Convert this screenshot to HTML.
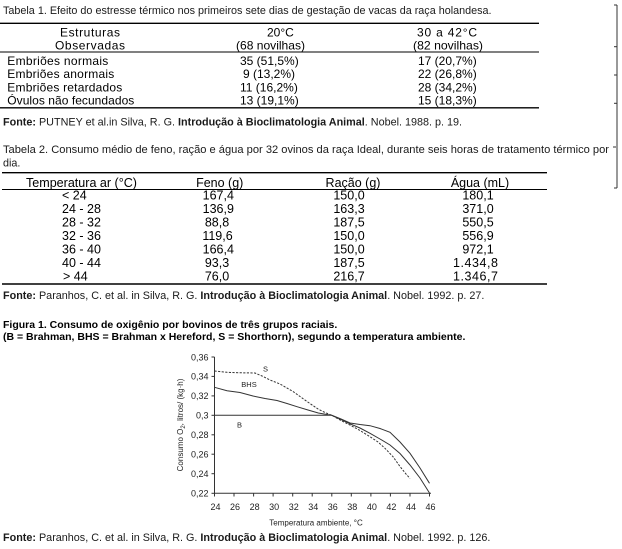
<!DOCTYPE html>
<html>
<head>
<meta charset="utf-8">
<style>
  html, body { margin:0; padding:0; background:#fff; }
  body { width:622px; height:549px; overflow:hidden; }
  svg { display:block; }
  text { font-family: "Liberation Sans", Arial, sans-serif; fill:#111; }
  .t { font-size:10.8px; fill:#1a1a1a; }
  .b1 { font-size:12px; fill:#000; }
  .b2 { font-size:12.5px; fill:#000; }
  .cap { font-size:10.5px; font-weight:bold; fill:#000; }
  .ax { font-size:9px; fill:#222; }
  .axt { font-size:8px; fill:#222; }
  .lab { font-size:7.5px; fill:#222; }
</style>
</head>
<body>
<svg width="622" height="549" viewBox="0 0 622 549" xmlns="http://www.w3.org/2000/svg">

  <!-- ===== Tabela 1 ===== -->
  <text class="t" x="3" y="14">Tabela 1. Efeito do estresse térmico nos primeiros sete dias de gestação de vacas da raça holandesa.</text>
  <line x1="0" y1="23.3" x2="539" y2="23.3" stroke="#000" stroke-width="1.4"/>

  <text class="b1" x="90" y="36.5" text-anchor="middle" textLength="60" lengthAdjust="spacing">Estruturas</text>
  <text class="b1" x="90" y="49.5" text-anchor="middle" textLength="70" lengthAdjust="spacing">Observadas</text>
  <text class="b1" x="267" y="36.5">20°C</text>
  <text class="b1" x="236" y="49.5" textLength="69" lengthAdjust="spacingAndGlyphs">(68 novilhas)</text>
  <text class="b1" x="417" y="36.5" textLength="60" lengthAdjust="spacing">30 a 42°C</text>
  <text class="b1" x="413" y="49.5" textLength="70" lengthAdjust="spacingAndGlyphs">(82 novilhas)</text>
  <line x1="0" y1="52" x2="539" y2="52" stroke="#000" stroke-width="1.1"/>

  <text class="b1" x="7.3" y="65" textLength="101" lengthAdjust="spacing">Embriões normais</text>
  <text class="b1" x="7.3" y="78" textLength="107" lengthAdjust="spacing">Embriões anormais</text>
  <text class="b1" x="7.3" y="91.4" textLength="115" lengthAdjust="spacing">Embriões retardados</text>
  <text class="b1" x="7.3" y="104.7" textLength="127" lengthAdjust="spacing">Óvulos não fecundados</text>

  <text class="b1" x="240" y="65">35 (51,5%)</text>
  <text class="b1" x="243" y="78">9 (13,2%)</text>
  <text class="b1" x="240" y="91.4">11 (16,2%)</text>
  <text class="b1" x="240" y="104.7">13 (19,1%)</text>

  <text class="b1" x="418" y="65">17 (20,7%)</text>
  <text class="b1" x="418" y="78">22 (26,8%)</text>
  <text class="b1" x="418" y="91.4">28 (34,2%)</text>
  <text class="b1" x="418" y="104.7">15 (18,3%)</text>
  <line x1="0" y1="107.8" x2="539" y2="107.8" stroke="#000" stroke-width="1.4"/>

  <text class="t" x="3" y="125.5"><tspan font-weight="bold">Fonte:</tspan> PUTNEY et al.in Silva, R. G. <tspan font-weight="bold">Introdução à Bioclimatologia Animal</tspan>. Nobel. 1988. p. 19.</text>

  <!-- right bracket -->
  <g stroke="#333" stroke-width="1">
    <line x1="617" y1="5" x2="617" y2="188"/>
    <line x1="614" y1="5" x2="617" y2="5"/>
    <line x1="614" y1="46.7" x2="617" y2="46.7"/>
    <line x1="614" y1="75" x2="617" y2="75"/>
    <line x1="614" y1="103.3" x2="617" y2="103.3"/>
    <line x1="613" y1="147" x2="616" y2="147"/>
    <line x1="614" y1="188" x2="617" y2="188"/>
  </g>

  <!-- ===== Tabela 2 ===== -->
  <text class="t" x="3" y="153" textLength="606" lengthAdjust="spacingAndGlyphs">Tabela 2. Consumo médio de feno, ração e água por 32 ovinos da raça Ideal, durante seis horas de tratamento térmico por</text>
  <text class="t" x="3" y="166.5">dia.</text>
  <line x1="2" y1="172.7" x2="547" y2="172.7" stroke="#000" stroke-width="1.4"/>

  <text class="b2" x="26" y="187" textLength="111" lengthAdjust="spacingAndGlyphs">Temperatura ar (°C)</text>
  <text class="b2" x="219.7" y="187" text-anchor="middle">Feno (g)</text>
  <text class="b2" x="353" y="187" text-anchor="middle">Ração (g)</text>
  <text class="b2" x="480" y="187" text-anchor="middle">Água (mL)</text>
  <line x1="2" y1="189.5" x2="547" y2="189.5" stroke="#000" stroke-width="1.1"/>

  <text class="b2" x="62" y="199.5">&lt; 24</text>
  <text class="b2" x="62" y="213">24 - 28</text>
  <text class="b2" x="62" y="226.5">28 - 32</text>
  <text class="b2" x="62" y="240">32 - 36</text>
  <text class="b2" x="62" y="253.5">36 - 40</text>
  <text class="b2" x="62" y="267">40 - 44</text>
  <text class="b2" x="63" y="280.5">&gt; 44</text>

  <g text-anchor="middle">
    <text class="b2" x="218.3" y="199.5" text-anchor="middle">167,4</text>
    <text class="b2" x="218.3" y="213" text-anchor="middle">136,9</text>
    <text class="b2" x="217" y="226.5" text-anchor="middle">88,8</text>
    <text class="b2" x="217.5" y="240" text-anchor="middle">119,6</text>
    <text class="b2" x="218.3" y="253.5" text-anchor="middle">166,4</text>
    <text class="b2" x="217" y="267" text-anchor="middle">93,3</text>
    <text class="b2" x="217" y="280.5" text-anchor="middle">76,0</text>

    <text class="b2" x="349" y="199.5" text-anchor="middle">150,0</text>
    <text class="b2" x="349" y="213" text-anchor="middle">163,3</text>
    <text class="b2" x="349" y="226.5" text-anchor="middle">187,5</text>
    <text class="b2" x="349" y="240" text-anchor="middle">150,0</text>
    <text class="b2" x="349" y="253.5" text-anchor="middle">150,0</text>
    <text class="b2" x="349" y="267" text-anchor="middle">187,5</text>
    <text class="b2" x="349" y="280.5" text-anchor="middle">216,7</text>

    <text class="b2" x="478" y="199.5" text-anchor="middle">180,1</text>
    <text class="b2" x="478" y="213" text-anchor="middle">371,0</text>
    <text class="b2" x="478" y="226.5" text-anchor="middle">550,5</text>
    <text class="b2" x="478" y="240" text-anchor="middle">556,9</text>
    <text class="b2" x="478" y="253.5" text-anchor="middle">972,1</text>
    <text class="b2" x="475.5" y="267" text-anchor="middle" textLength="45" lengthAdjust="spacing">1.434,8</text>
    <text class="b2" x="475.5" y="280.5" text-anchor="middle" textLength="45" lengthAdjust="spacing">1.346,7</text>
  </g>
  <line x1="2" y1="284" x2="547" y2="284" stroke="#000" stroke-width="1.4"/>

  <text class="t" x="3" y="299"><tspan font-weight="bold">Fonte:</tspan> Paranhos, C. et al. in Silva, R. G. <tspan font-weight="bold">Introdução à Bioclimatologia Animal</tspan>. Nobel. 1992. p. 27.</text>

  <!-- ===== Figura 1 ===== -->
  <text class="cap" x="3" y="328">Figura 1. Consumo de oxigênio por bovinos de três grupos raciais.</text>
  <text class="cap" x="3" y="340">(B = Brahman, BHS = Brahman x Hereford, S = Shorthorn), segundo a temperatura ambiente.</text>

  <!-- axes -->
  <g stroke="#333" stroke-width="1" fill="none">
    <line x1="214.5" y1="357" x2="214.5" y2="493.3"/>
    <line x1="214.5" y1="493.3" x2="431" y2="493.3"/>
    <line x1="211.5" y1="357" x2="214.5" y2="357"/>
    <line x1="211.5" y1="376.4" x2="214.5" y2="376.4"/>
    <line x1="211.5" y1="395.9" x2="214.5" y2="395.9"/>
    <line x1="211.5" y1="415.3" x2="214.5" y2="415.3"/>
    <line x1="211.5" y1="434.8" x2="214.5" y2="434.8"/>
    <line x1="211.5" y1="454.2" x2="214.5" y2="454.2"/>
    <line x1="211.5" y1="473.7" x2="214.5" y2="473.7"/>
    <line x1="211.5" y1="493.3" x2="214.5" y2="493.3"/>
    <line x1="214.5" y1="493.3" x2="214.5" y2="496.5"/>
    <line x1="234" y1="493.3" x2="234" y2="496.5"/>
    <line x1="253.6" y1="493.3" x2="253.6" y2="496.5"/>
    <line x1="273.1" y1="493.3" x2="273.1" y2="496.5"/>
    <line x1="292.7" y1="493.3" x2="292.7" y2="496.5"/>
    <line x1="312.2" y1="493.3" x2="312.2" y2="496.5"/>
    <line x1="331.8" y1="493.3" x2="331.8" y2="496.5"/>
    <line x1="351.3" y1="493.3" x2="351.3" y2="496.5"/>
    <line x1="370.9" y1="493.3" x2="370.9" y2="496.5"/>
    <line x1="390.4" y1="493.3" x2="390.4" y2="496.5"/>
    <line x1="410" y1="493.3" x2="410" y2="496.5"/>
    <line x1="429.5" y1="493.3" x2="429.5" y2="496.5"/>
  </g>

  <g text-anchor="end">
    <text class="ax" x="208.5" y="360.3" text-anchor="end">0,36</text>
    <text class="ax" x="208.5" y="379.7" text-anchor="end">0,34</text>
    <text class="ax" x="208.5" y="399.2" text-anchor="end">0,32</text>
    <text class="ax" x="208.5" y="418.6" text-anchor="end">0,3</text>
    <text class="ax" x="208.5" y="438.1" text-anchor="end">0,28</text>
    <text class="ax" x="208.5" y="457.5" text-anchor="end">0,26</text>
    <text class="ax" x="208.5" y="477" text-anchor="end">0,24</text>
    <text class="ax" x="208.5" y="496.5" text-anchor="end">0,22</text>
  </g>
  <g>
    <text class="ax" x="215.5" y="510" text-anchor="middle">24</text>
    <text class="ax" x="235" y="510" text-anchor="middle">26</text>
    <text class="ax" x="254.6" y="510" text-anchor="middle">28</text>
    <text class="ax" x="274.1" y="510" text-anchor="middle">30</text>
    <text class="ax" x="293.7" y="510" text-anchor="middle">32</text>
    <text class="ax" x="313.2" y="510" text-anchor="middle">34</text>
    <text class="ax" x="332.8" y="510" text-anchor="middle">36</text>
    <text class="ax" x="352.3" y="510" text-anchor="middle">38</text>
    <text class="ax" x="371.9" y="510" text-anchor="middle">40</text>
    <text class="ax" x="391.4" y="510" text-anchor="middle">42</text>
    <text class="ax" x="411" y="510" text-anchor="middle">44</text>
    <text class="ax" x="430.5" y="510" text-anchor="middle">46</text>
  </g>

  <text class="axt" x="316" y="525.5" text-anchor="middle">Temperatura ambiente, °C</text>
  <text class="axt" transform="translate(183,425) rotate(-90)" text-anchor="middle">Consumo O<tspan font-size="6" dy="2">2</tspan><tspan dy="-2">, litros/ (kg·h)</tspan></text>

  <polyline fill="none" stroke="#333" stroke-width="1" stroke-dasharray="2.2,1.4"
    points="214.5,371 227,372.3 241,372.8 255,373 262,376 270,380 280,384 293,391.5 307,401.5 318,409 325,412.5 331.8,415.3 341,420.5 350,425 360,430.5 370,436.7 378,442 385,448.3 393,456.7 400,466.5 406,474 410,478.5"/>
  <polyline fill="none" stroke="#333" stroke-width="1"
    points="214.5,387.3 227,390.7 240,392.5 253,396 265,398.5 277,400.5 287,403.5 297,406.7 308,410 318.3,413 331.8,415.3 341,419.5 350,423.8 360,428 370,433.3 380,439 390,445 400,453.5 410,465 420,478 429.5,493"/>
  <polyline fill="none" stroke="#333" stroke-width="1"
    points="214.5,415.3 331.8,415.3 341,419 350,423 360,424.5 370,425.7 380,428.5 390,432.3 400,442 410,453.3 420,468 429.5,483.3"/>

  <text class="lab" x="265.5" y="371.5" text-anchor="middle">S</text>
  <text class="lab" x="249" y="387" text-anchor="middle">BHS</text>
  <text class="lab" x="239.5" y="427.5" text-anchor="middle">B</text>

  <text class="t" x="3" y="541"><tspan font-weight="bold">Fonte:</tspan> Paranhos, C. et al. in Silva, R. G. <tspan font-weight="bold">Introdução à Bioclimatologia Animal</tspan>. Nobel. 1992. p. 126.</text>
</svg>
</body>
</html>
